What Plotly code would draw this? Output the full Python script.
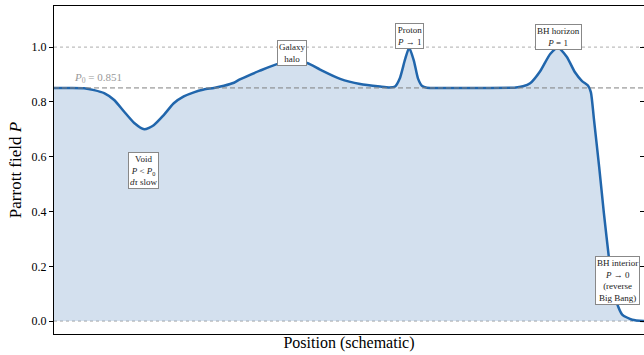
import plotly.graph_objects as go

# Schematic position (0..10) and Parrott field values
position = [0.00, 0.27, 0.51, 0.68, 0.85, 1.02, 1.19, 1.36, 1.53, 1.69, 1.86, 2.03,
            2.20, 2.37, 2.54, 2.71, 2.88, 3.05, 3.15, 3.49, 3.78, 4.03, 4.29, 4.51,
            4.85, 5.19, 5.53, 5.68, 5.78, 5.86, 5.95, 6.02, 6.10, 6.17, 6.24, 6.32,
            6.54, 7.20, 7.80, 7.95, 8.07, 8.24, 8.41, 8.54, 8.69, 8.83, 8.95, 9.05,
            9.10, 9.15, 9.24, 9.32, 9.41, 9.47, 9.54, 9.63, 9.80, 10.00]
parrott_P = [0.851, 0.851, 0.850, 0.843, 0.832, 0.807, 0.764, 0.723, 0.700, 0.715, 0.752, 0.795,
             0.820, 0.835, 0.845, 0.851, 0.859, 0.870, 0.882, 0.914, 0.938, 0.946, 0.942, 0.918,
             0.884, 0.865, 0.856, 0.853, 0.856, 0.885, 0.955, 0.998, 0.950, 0.885, 0.858, 0.852,
             0.851, 0.851, 0.852, 0.857, 0.868, 0.912, 0.975, 0.998, 0.965, 0.908, 0.876, 0.860,
             0.835, 0.740, 0.563, 0.394, 0.223, 0.125, 0.066, 0.024, 0.005, 0.000]

P0 = 0.851
ref_levels = [0.0, 1.0]
y_ticks = [0.0, 0.2, 0.4, 0.6, 0.8, 1.0]

ann_text = ["Galaxy<br>halo", "Proton<br><i>P</i> → 1", "BH horizon<br><i>P</i> = 1",
            "Void<br><i>P</i> &lt; <i>P</i><sub>0</sub><br><i>dτ</i> slow",
            "BH interior<br><i>P</i> → 0<br>(reverse<br>Big Bang)"]
ann_x = [4.03, 6.03, 8.55, 1.51, 9.55]
ann_y = [0.98, 1.04, 1.038, 0.551, 0.15]

SERIF = "Liberation Serif, Times New Roman, serif"
LINE = "#2166ac"

fig = go.Figure()
fig.add_trace(go.Scatter(x=position, y=parrott_P, mode="lines",
                         line=dict(color=LINE, width=2.5, shape="spline", smoothing=0.6),
                         fill="tozeroy", fillcolor="rgba(33,102,172,0.2)",
                         showlegend=False, hoverinfo="skip"))
# empty trace so that the mirrored right-hand tick axis is drawn
fig.add_trace(go.Scatter(x=[], y=[], yaxis="y2", showlegend=False, hoverinfo="skip"))

shapes = []
for lv in ref_levels:
    shapes.append(dict(type="line", xref="paper", x0=0, x1=1, yref="y", y0=lv, y1=lv,
                       line=dict(color="#999999", width=0.8, dash="dot"), layer="below"))
shapes.append(dict(type="line", xref="paper", x0=0, x1=1, yref="y", y0=P0, y1=P0,
                   line=dict(color="#808080", width=1, dash="5px,3px"), layer="above"))

annotations = [dict(x=0.31, y=0.887, xref="x", yref="y", xanchor="left", yanchor="middle",
                    text=f"<i>P</i><sub>0</sub> = {P0}", showarrow=False,
                    font=dict(family=SERIF, size=11, color="#999999"))]
for t, x, y in zip(ann_text, ann_x, ann_y):
    annotations.append(dict(x=x, y=y, xref="x", yref="y", text=t, showarrow=False,
                            xanchor="center", yanchor="middle",
                            font=dict(family=SERIF, size=9, color="#222222"),
                            bgcolor="white", bordercolor="#888888", borderwidth=1, borderpad=1))

fig.update_layout(
    width=644, height=355,
    margin=dict(l=54, r=0, t=6, b=21, autoexpand=False),
    paper_bgcolor="white", plot_bgcolor="white",
    shapes=shapes, annotations=annotations,
    xaxis=dict(range=[0, 10], showticklabels=False, ticks="", showgrid=False, zeroline=False,
               automargin=False,
               showline=True, linecolor="black", linewidth=1.2, mirror=True,
               title=dict(text="Position (schematic)", font=dict(family=SERIF, size=16, color="black"),
                          standoff=2)),
    yaxis=dict(range=[-0.047, 1.15], tickvals=y_ticks, ticktext=[f"{v:.1f}" for v in y_ticks],
               ticks="outside", ticklen=4, tickcolor="black", tickwidth=1, automargin=False,
               showgrid=False, zeroline=False, showline=True, linecolor="black", linewidth=1.2,
               tickfont=dict(family=SERIF, size=12, color="black"),
               title=dict(text="Parrott field <i>P</i>", font=dict(family=SERIF, size=17, color="black"),
                          standoff=5)),
    yaxis2=dict(overlaying="y", side="right", range=[-0.047, 1.15], tickvals=y_ticks,
                ticks="inside", ticklen=4, tickcolor="black", showticklabels=False,
                automargin=False, showgrid=False, zeroline=False, showline=False),
)

fig.write_html("out.html", config={"displayModeBar": False},
               post_script="document.body.style.margin='0';document.body.style.padding='0';")
